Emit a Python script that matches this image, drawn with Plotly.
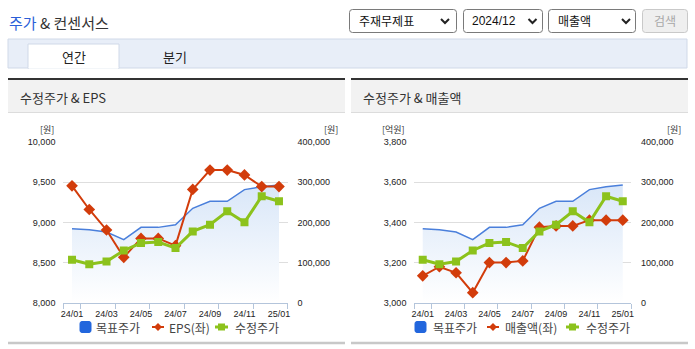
import plotly.graph_objects as go

W, H = 695, 349

# ---------------- data ----------------
months = ["24/01", "24/02", "24/03", "24/04", "24/05", "24/06", "24/07",
          "24/08", "24/09", "24/10", "24/11", "24/12", "25/01"]
target_price = [184000, 181500, 176000, 157000, 187500, 187500, 194000,
                235000, 252500, 252500, 281500, 288500, 293000]
adj_price = [107000, 96000, 102500, 130000, 148500, 151000, 136000,
             177500, 194000, 227500, 200000, 265000, 252500]
eps = [9455, 9160, 8905, 8565, 8800, 8800, 8710,
       9410, 9650, 9650, 9590, 9445, 9445]
revenue = [3134, 3179, 3149, 3050, 3200, 3200, 3208,
           3376, 3382, 3382, 3411, 3411, 3411]

eps_ticks = [8000, 8500, 9000, 9500, 10000]
rev_ticks = [3000, 3200, 3400, 3600, 3800]
price_ticks = [0, 100000, 200000, 300000, 400000]

BLUE = "#4a7fdb"
RED = "#d23c0b"
GREEN = "#8cc21c"
FONT_KR = "Noto Sans CJK KR"
FONT_NUM = "Liberation Sans"

x = list(range(len(months)))
xtickvals = x[::2]
xticktext = months[::2]
minor_vals = [-0.5] + [i + 0.5 for i in x[::2]]


def X(p):
    return p / W


def Y(p):
    return 1 - p / H


fig = go.Figure()

# ---------------- traces ----------------
def add_chart(xa, ya_main, ya_left, ya_top, left_vals, left_name):
    fig.add_trace(go.Scatter(
        x=x, y=target_price, xaxis=xa, yaxis=ya_main, mode="lines",
        line=dict(color=BLUE, width=1.5), fill="tozeroy",
        fillgradient=dict(type="vertical", start=0, stop=300000,
                          colorscale=[[0, "rgba(255,255,255,1)"], [1, "#d8e6f8"]]),
        name="목표주가", showlegend=False, hoverinfo="skip"))
    fig.add_trace(go.Scatter(
        x=x, y=left_vals, xaxis=xa, yaxis=ya_left, mode="lines+markers",
        line=dict(color=RED, width=2), marker=dict(symbol="diamond", size=9, color=RED),
        name=left_name, showlegend=False, hoverinfo="skip"))
    fig.add_trace(go.Scatter(
        x=x, y=adj_price, xaxis=xa, yaxis=ya_top, mode="lines+markers",
        line=dict(color=GREEN, width=3), marker=dict(symbol="square", size=8, color=GREEN),
        name="수정주가", showlegend=False, hoverinfo="skip"))


add_chart("x", "y", "y2", "y3", eps, "EPS(좌)")
add_chart("x2", "y4", "y5", "y6", revenue, "매출액(좌)")

# ---------------- axes ----------------
tickfont = dict(family=FONT_NUM, size=9, color="#222")
AXC = "#b4c5db"


def xaxis_cfg(domain):
    return dict(domain=domain, range=[-0.5, 12.5], tickmode="array",
                tickvals=xtickvals, ticktext=xticktext, ticks="",
                showline=True, linecolor=AXC, linewidth=1, showgrid=False,
                zeroline=False, tickfont=tickfont, ticklabelstandoff=2,
                automargin=False,
                minor=dict(tickmode="array", tickvals=minor_vals, ticks="outside",
                           ticklen=5, tickcolor=AXC, showgrid=False),
                fixedrange=True)


ydom = [Y(302.7), Y(142)]
L_dom = [X(63.4), X(287.6)]
R_dom = [X(414.4), X(631.1)]

layout = dict(
    width=W, height=H,
    margin=dict(l=0, r=0, t=0, b=0, pad=0, autoexpand=False),
    paper_bgcolor="white", plot_bgcolor="rgba(0,0,0,0)",
    showlegend=False,
    xaxis=xaxis_cfg(L_dom),
    xaxis2=xaxis_cfg(R_dom),
    yaxis=dict(domain=ydom, anchor="x", side="right", range=[0, 400000],
               tickmode="array", tickvals=price_ticks, tickformat=",",
               showgrid=True, gridcolor="#dedede", gridwidth=1, zeroline=False,
               showline=False, tickfont=tickfont, ticklabelstandoff=9, automargin=False),
    yaxis2=dict(anchor="x", overlaying="y", side="left", range=[8000, 10000],
                tickmode="array", tickvals=eps_ticks, tickformat=",",
                showgrid=False, zeroline=False, showline=False,
                tickfont=tickfont, ticklabelstandoff=7, automargin=False),
    yaxis3=dict(anchor="x", overlaying="y", range=[0, 400000], visible=False, automargin=False),
    yaxis4=dict(domain=ydom, anchor="x2", side="right", range=[0, 400000],
                tickmode="array", tickvals=price_ticks, tickformat=",",
                showgrid=True, gridcolor="#dedede", gridwidth=1, zeroline=False,
                showline=False, tickfont=tickfont, ticklabelstandoff=9, automargin=False),
    yaxis5=dict(anchor="x2", overlaying="y4", side="left", range=[3000, 3800],
                tickmode="array", tickvals=rev_ticks, tickformat=",",
                showgrid=False, zeroline=False, showline=False,
                tickfont=tickfont, ticklabelstandoff=7, automargin=False),
    yaxis6=dict(anchor="x2", overlaying="y4", range=[0, 400000], visible=False, automargin=False),
)
fig.update_layout(**layout)

# ---------------- decorations ----------------
shapes = []
ann = []


def rect(x0, y0, x1, y1, fill, line=None, lw=1, layer="below"):
    shapes.append(dict(type="rect", xref="paper", yref="paper",
                       x0=X(x0), x1=X(x1), y0=Y(y1), y1=Y(y0),
                       fillcolor=fill, line=dict(color=line or fill, width=lw if line else 0),
                       layer=layer))


def hline(x0, x1, y, color, lw=1, layer="above"):
    shapes.append(dict(type="line", xref="paper", yref="paper",
                       x0=X(x0), x1=X(x1), y0=Y(y), y1=Y(y),
                       line=dict(color=color, width=lw), layer=layer))


def rrect(x0, y0, x1, y1, r, fill, line, lw=1):
    p = (f"M {X(x0+r)},{Y(y0)} L {X(x1-r)},{Y(y0)} Q {X(x1)},{Y(y0)} {X(x1)},{Y(y0+r)} "
         f"L {X(x1)},{Y(y1-r)} Q {X(x1)},{Y(y1)} {X(x1-r)},{Y(y1)} "
         f"L {X(x0+r)},{Y(y1)} Q {X(x0)},{Y(y1)} {X(x0)},{Y(y1-r)} "
         f"L {X(x0)},{Y(y0+r)} Q {X(x0)},{Y(y0)} {X(x0+r)},{Y(y0)} Z")
    shapes.append(dict(type="path", xref="paper", yref="paper", path=p,
                       fillcolor=fill, line=dict(color=line, width=lw), layer="below"))


def chevron(cx, cy):
    p = f"M {X(cx-4)},{Y(cy-2)} L {X(cx)},{Y(cy+2)} L {X(cx+4)},{Y(cy-2)}"
    shapes.append(dict(type="path", xref="paper", yref="paper", path=p,
                       line=dict(color="#222", width=2), layer="above"))


def text(x, y, s, size=12, color="#333", xanchor="left", family=FONT_KR):
    ann.append(dict(x=X(x), y=Y(y), xref="paper", yref="paper", text=s,
                    showarrow=False, xanchor=xanchor, yanchor="middle",
                    font=dict(family=family, size=size, color=color)))


# header title
text(7, 23, "<span style='color:#2b5fd8'>주가</span> & 컨센서스", size=15, color="#333")

# dropdowns
rrect(349.5, 9.5, 456.5, 32.5, 3, "white", "#7a7a7a")
text(357, 21, "주재무제표", size=12, color="#111")
chevron(445, 21)
rrect(463.5, 9.5, 542.5, 32.5, 3, "white", "#7a7a7a")
text(470, 21, "2024/12", size=12, color="#111", family=FONT_NUM)
chevron(532.5, 21)
rrect(548.5, 9.5, 635.5, 32.5, 3, "white", "#7a7a7a")
text(556, 21, "매출액", size=12, color="#111")
chevron(626, 21)
rrect(642.5, 9.5, 687.5, 32.5, 3, "#efefef", "#c9c9c9")
text(665, 21, "검색", size=12, color="#a8a8a8", xanchor="center")

# tab bar
rect(8, 39, 687, 68, "#e8eef8", "#d0d9e8", 1)
rect(28, 44, 119, 68.5, "white", "#d0d9e8", 1)
hline(28.6, 118.4, 68, "white", 1.5, layer="below")
text(73.5, 56, "연간", size=13, color="#222", xanchor="center")
text(175, 56, "분기", size=13, color="#222", xanchor="center")

# panels
for (px0, px1, title, tx) in [(8, 345, "수정주가 & EPS", 18),
                               (351, 688, "수정주가 & 매출액", 361)]:
    rect(px0, 80, px1, 112, "#f2f2f2")
    hline(px0, px1, 79, "#333", 2)
    hline(px0, px1, 112.5, "#dcdcdc", 1)
    hline(px0, px1, 343, "#c8c8c8", 2.5)
    text(tx, 97, title, size=13, color="#333")

# units
text(47, 129.5, "[원]", size=9, color="#333", xanchor="center")
text(331, 129.5, "[원]", size=9, color="#333", xanchor="center")
text(393, 129.5, "[억원]", size=9, color="#333", xanchor="center")
text(674, 129.5, "[원]", size=9, color="#333", xanchor="center")


# legends
def legend(bx, items_x, names):
    ly = 327
    rrect(bx, ly - 5.5, bx + 11, ly + 5.5, 2, "#2266dd", "#2266dd")
    text(items_x[0], ly, names[0], size=12, color="#444")
    rx0, rx1 = items_x[1], items_x[1] + 12
    hline(rx0, rx1, ly, RED, 2)
    cx = (rx0 + rx1) / 2
    shapes.append(dict(type="path", xref="paper", yref="paper",
                       path=f"M {X(cx)},{Y(ly-4)} L {X(cx+4)},{Y(ly)} L {X(cx)},{Y(ly+4)} L {X(cx-4)},{Y(ly)} Z",
                       fillcolor=RED, line=dict(color=RED, width=0)))
    text(items_x[2], ly, names[1], size=12, color="#444")
    gx0, gx1 = items_x[3], items_x[3] + 13
    hline(gx0, gx1, ly, GREEN, 3)
    gc = (gx0 + gx1) / 2
    rect(gc - 3.5, ly - 3.5, gc + 3.5, ly + 3.5, GREEN, layer="above")
    text(items_x[4], ly, names[2], size=12, color="#444")


legend(80, [94, 152, 167, 215, 233], ["목표주가", "EPS(좌)", "수정주가"])
legend(415, [431, 487, 503, 566, 584], ["목표주가", "매출액(좌)", "수정주가"])

fig.update_layout(shapes=shapes, annotations=ann)
fig.write_html("out.html")
